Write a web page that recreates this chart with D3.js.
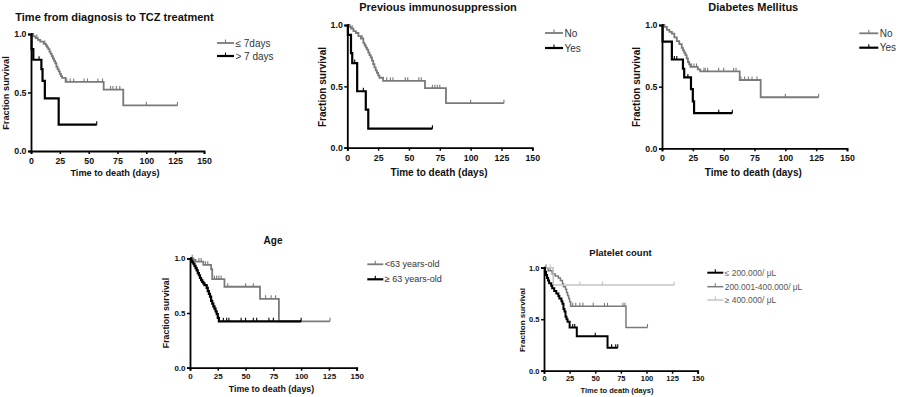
<!DOCTYPE html>
<html>
<head>
<meta charset="utf-8">
<script src="https://cdn.jsdelivr.net/npm/d3@7"></script>
<style>
  html, body { margin: 0; padding: 0; background: #fff; }
  svg { display: block; font-family: "Liberation Sans", Arial, sans-serif; }
</style>
</head>
<body>
<svg id="chart" width="899" height="397"></svg>
<script>
// ---------------- DATA ----------------
const xTickValues = [0, 25, 50, 75, 100, 125, 150];
const yTickValues = [0, 0.5, 1.0];
const xAxisLabel = "Time to death (days)";
const yAxisLabel = "Fraction survival";

const panelTitles = [
  "Time from diagnosis to TCZ treatment",
  "Previous immunosuppression",
  "Diabetes Mellitus",
  "Age",
  "Platelet count"
];

// Panel 1: Time from diagnosis to TCZ treatment
const tczNames = ["\u2264 7days", "> 7 days"];
const tczLe7Steps = [[0,1],[2,0.98],[4,0.965],[6,0.95],[8,0.935],[11,0.915],[13,0.9],[14,0.885],[15,0.87],[16,0.85],[17,0.83],[18,0.81],[19,0.79],[20,0.77],[21,0.75],[22,0.72],[23,0.70],[24,0.68],[25,0.66],[26,0.64],[27,0.625],[30,0.59],[63,0.525],[80,0.39]];
const tczLe7Censored = [5, 12, 31, 34, 37, 46, 49, 58, 62, 69, 71, 74, 77, 100, 127];
const tczGt7Steps = [[0,1],[0.5,0.87],[2,0.78],[9,0.70],[10,0.60],[12,0.45],[24,0.225]];
const tczGt7Censored = [7, 57];

// Panel 2: Previous immunosuppression
const immunoNames = ["No", "Yes"];
const immunoNoSteps = [[0,1],[2,0.985],[3,0.97],[5,0.95],[7,0.935],[9,0.91],[11,0.89],[13,0.855],[14,0.835],[15,0.815],[16,0.80],[17,0.775],[18,0.755],[19,0.735],[20,0.71],[21,0.68],[22,0.655],[23,0.63],[24,0.61],[25,0.59],[26,0.57],[29,0.545],[63,0.485],[80,0.363]];
const immunoNoCensored = [4, 12, 32, 35, 37, 47, 49, 58, 60, 69, 71, 73, 75, 100, 127];
const immunoYesSteps = [[0,1],[0.5,0.92],[3,0.77],[4,0.69],[8,0.46],[15,0.31],[17,0.155]];
const immunoYesCensored = [6, 13, 69];

// Panel 3: Diabetes Mellitus
const dmNames = ["No", "Yes"];
const dmNoSteps = [[0,1],[2,0.985],[4,0.96],[6,0.945],[8,0.93],[10,0.9],[12,0.87],[14,0.845],[16,0.815],[17,0.795],[18,0.775],[19,0.755],[20,0.73],[21,0.70],[22,0.68],[23,0.66],[29,0.64],[31,0.624],[63,0.554],[80,0.414]];
const dmNoCensored = [24, 26, 28, 34, 35, 37, 46, 50, 58, 60, 64, 67, 70, 73, 77, 100, 127];
const dmYesSteps = [[0,1],[0.5,0.865],[8,0.72],[17,0.645],[18,0.575],[23.5,0.48],[25,0.38],[26,0.285]];
const dmYesCensored = [10, 12, 21, 46, 57];

// Panel 4: Age
const ageNames = ["<63 years-old", "\u2265 63 years-old"];
const ageYoungSteps = [[0,1],[3,0.985],[5,0.97],[12,0.94],[19,0.90],[20,0.81],[31,0.74],[63,0.63],[80,0.424]];
const ageYoungCensored = [2, 8, 10, 14, 16, 22, 24, 26, 28, 34, 50, 57, 68, 73, 77, 126];
const ageOldSteps = [[0,1],[1,0.98],[2,0.965],[3,0.95],[4,0.93],[5,0.91],[6,0.89],[7,0.865],[8,0.845],[9,0.82],[10,0.80],[11,0.785],[12,0.77],[13,0.755],[15,0.73],[16,0.70],[17,0.675],[18,0.65],[19,0.61],[20,0.585],[21,0.56],[22,0.54],[23,0.515],[24,0.49],[25,0.455],[26,0.424]];
const ageOldCensored = [30, 33, 35, 46, 50, 57, 60, 71, 75, 100];

// Panel 5: Platelet count
const pltNames = ["\u2264 200.000/ \u03bcL", "200.001-400.000/ \u03bcL", "\u2265 400.000/ \u03bcL"];
const pltLowSteps = [[0,1],[1,0.96],[2,0.93],[3,0.9],[4,0.875],[5,0.85],[7,0.825],[8,0.8],[10,0.775],[12,0.75],[14,0.725],[15,0.70],[17,0.675],[18,0.65],[19,0.60],[20,0.575],[21,0.525],[22,0.5],[23,0.475],[25,0.42],[32,0.335],[62,0.223]];
const pltLowCensored = [28, 30, 50, 66, 70, 72];
const pltMidSteps = [[0,1],[4,0.97],[8,0.94],[11,0.92],[14,0.9],[16,0.875],[18,0.845],[19,0.815],[21,0.79],[22,0.76],[23,0.73],[24,0.70],[25,0.67],[26,0.625],[80,0.42]];
const pltMidCensored = [2, 6, 28, 31, 35, 38, 48, 59, 62, 77, 79, 101];
const pltHighSteps = [[0,1],[9,0.833]];
const pltHighCensored = [6, 35, 57, 127];

// ---------------- STYLE / LAYOUT ----------------
const GRAY = "#7a7a7a", BLACK = "#000000", LIGHT = "#c4c4c4";

const panels = [
  { title: panelTitles[0], x0: 31, x1: 204, y0: 151, y1: 34, titleX: 114.5, titleY: 21, titleSize: 11,
    xLabY: 176, xLabX: 115, xLabSize: 9.2, yLabX: 9, yLabY: 93, yLabSize: 9.2, tickSize: 8.8, tickLabY: 163.5,
    legX: 217, legY: [43, 56], legSize: 10, legLine: 17, legColor: "#333",
    series: [
      { name: tczNames[0], steps: tczLe7Steps, cens: tczLe7Censored, color: GRAY, w: 1.8 },
      { name: tczNames[1], steps: tczGt7Steps, cens: tczGt7Censored, color: BLACK, w: 2.2 }
    ] },
  { title: panelTitles[1], x0: 347.3, x1: 532.3, y0: 147.7, y1: 25, titleX: 438, titleY: 10.5, titleSize: 11,
    xLabY: 176, xLabX: 439, xLabSize: 10, yLabX: 325.5, yLabY: 87, yLabSize: 10, tickSize: 8.8, tickLabY: 161,
    legX: 545, legY: [33, 48], legSize: 10, legLine: 18, legColor: "#333",
    series: [
      { name: immunoNames[0], steps: immunoNoSteps, cens: immunoNoCensored, color: GRAY, w: 1.8 },
      { name: immunoNames[1], steps: immunoYesSteps, cens: immunoYesCensored, color: BLACK, w: 2.2 }
    ] },
  { title: panelTitles[2], x0: 662, x1: 847, y0: 148.3, y1: 25, titleX: 753.3, titleY: 10.5, titleSize: 11,
    xLabY: 176, xLabX: 753.3, xLabSize: 10, yLabX: 640, yLabY: 87, yLabSize: 10, tickSize: 8.8, tickLabY: 161,
    legX: 859.3, legY: [33.3, 47.7], legSize: 10, legLine: 19, legColor: "#333",
    series: [
      { name: dmNames[0], steps: dmNoSteps, cens: dmNoCensored, color: GRAY, w: 1.8 },
      { name: dmNames[1], steps: dmYesSteps, cens: dmYesCensored, color: BLACK, w: 2.2 }
    ] },
  { title: panelTitles[3], x0: 190, x1: 356.7, y0: 367.7, y1: 258.3, titleX: 273, titleY: 244, titleSize: 10,
    xLabY: 392, xLabX: 271.5, xLabSize: 8.8, yLabX: 169, yLabY: 313, yLabSize: 8.8, tickSize: 8, tickLabY: 379,
    legX: 367.3, legY: [264.3, 279.3], legSize: 9, legLine: 16, legColor: "#333",
    series: [
      { name: ageNames[0], steps: ageYoungSteps, cens: ageYoungCensored, color: GRAY, w: 1.8 },
      { name: ageNames[1], steps: ageOldSteps, cens: ageOldCensored, color: BLACK, w: 2.2 }
    ] },
  { title: panelTitles[4], x0: 544, x1: 697.7, y0: 370.7, y1: 267.7, titleX: 620.5, titleY: 256, titleSize: 9.5,
    xLabY: 393, xLabX: 617, xLabSize: 7.5, yLabX: 525, yLabY: 320, yLabSize: 8, tickSize: 7.5, tickLabY: 381,
    legX: 707.3, legY: [272.7, 286.7, 300], legSize: 8.4, legLine: 16, legColor: "#555",
    series: [
      { name: pltNames[0], steps: pltLowSteps, cens: pltLowCensored, color: BLACK, w: 2 },
      { name: pltNames[1], steps: pltMidSteps, cens: pltMidCensored, color: GRAY, w: 1.5 },
      { name: pltNames[2], steps: pltHighSteps, cens: pltHighCensored, color: LIGHT, w: 1.5 }
    ] }
];

// ---------------- DRAW ----------------
const svg = d3.select("#chart");

function survivalAt(steps, t) {
  let s = 1;
  for (const [ti, si] of steps) { if (ti <= t) s = si; else break; }
  return s;
}

panels.forEach(p => {
  const g = svg.append("g");
  const x = d3.scaleLinear().domain([0, 150]).range([p.x0, p.x1]);
  const y = d3.scaleLinear().domain([0, 1]).range([p.y0, p.y1]);

  // Title
  g.append("text").attr("x", p.titleX).attr("y", p.titleY).attr("text-anchor", "middle")
    .attr("font-weight", "bold").attr("font-size", p.titleSize).attr("fill", "#111").text(p.title);

  // Axes
  const xAxis = d3.axisBottom(x).tickValues(xTickValues).tickSize(3).tickPadding(2).tickFormat(d3.format("d"));
  const yAxis = d3.axisLeft(y).tickValues(yTickValues).tickSize(3).tickPadding(1.5).tickFormat(d3.format(".1f"));

  const gx = g.append("g").attr("transform", `translate(0,${p.y0})`).call(xAxis);
  const gy = g.append("g").attr("transform", `translate(${p.x0},0)`).call(yAxis);
  [gx, gy].forEach(ax => {
    ax.select(".domain").attr("stroke", "#000").attr("stroke-width", 1.8);
    ax.selectAll(".tick line").attr("stroke", "#000").attr("stroke-width", 1.5);
    ax.selectAll(".tick text").attr("font-size", p.tickSize).attr("font-weight", "bold")
      .attr("fill", "#111").attr("font-family", "'Liberation Sans', Arial, sans-serif");
  });
  gx.selectAll(".tick text").attr("dy", null).attr("y", p.tickLabY - p.y0);

  // Axis labels
  g.append("text").attr("x", p.xLabX).attr("y", p.xLabY).attr("text-anchor", "middle")
    .attr("font-weight", "bold").attr("font-size", p.xLabSize).attr("fill", "#111").text(xAxisLabel);
  g.append("text").attr("transform", `translate(${p.yLabX},${p.yLabY}) rotate(-90)`).attr("text-anchor", "middle")
    .attr("font-weight", "bold").attr("font-size", p.yLabSize).attr("fill", "#111").text(yAxisLabel);

  // Survival curves (draw lighter first)
  const order = p.series.slice().sort((a, b) => (a.color === BLACK) - (b.color === BLACK));
  const line = d3.line().x(d => x(d[0])).y(d => y(d[1])).curve(d3.curveStepAfter);
  order.forEach(s => {
    const endT = Math.max(s.steps[s.steps.length - 1][0], d3.max(s.cens));
    const pts = s.steps.concat([[endT, s.steps[s.steps.length - 1][1]]]);
    g.append("path").attr("d", line(pts)).attr("fill", "none")
      .attr("stroke", s.color).attr("stroke-width", s.w);
    g.selectAll(null).data(s.cens).enter().append("line")
      .attr("x1", d => x(d)).attr("x2", d => x(d))
      .attr("y1", d => y(survivalAt(s.steps, d)) - 3.5)
      .attr("y2", d => y(survivalAt(s.steps, d)))
      .attr("stroke", s.color).attr("stroke-width", 1.1);
  });

  // Legend
  p.series.forEach((s, i) => {
    const ly = p.legY[i];
    g.append("line").attr("x1", p.legX).attr("x2", p.legX + p.legLine).attr("y1", ly).attr("y2", ly)
      .attr("stroke", s.color).attr("stroke-width", s.w);
    g.append("line").attr("x1", p.legX + p.legLine / 2).attr("x2", p.legX + p.legLine / 2)
      .attr("y1", ly - 3.5).attr("y2", ly).attr("stroke", s.color).attr("stroke-width", 1.1);
    g.append("text").attr("x", p.legX + p.legLine + 1.5).attr("y", ly).attr("dy", "0.35em")
      .attr("font-size", p.legSize).attr("fill", p.legColor).text(s.name);
  });
});
</script>
</body>
</html>
